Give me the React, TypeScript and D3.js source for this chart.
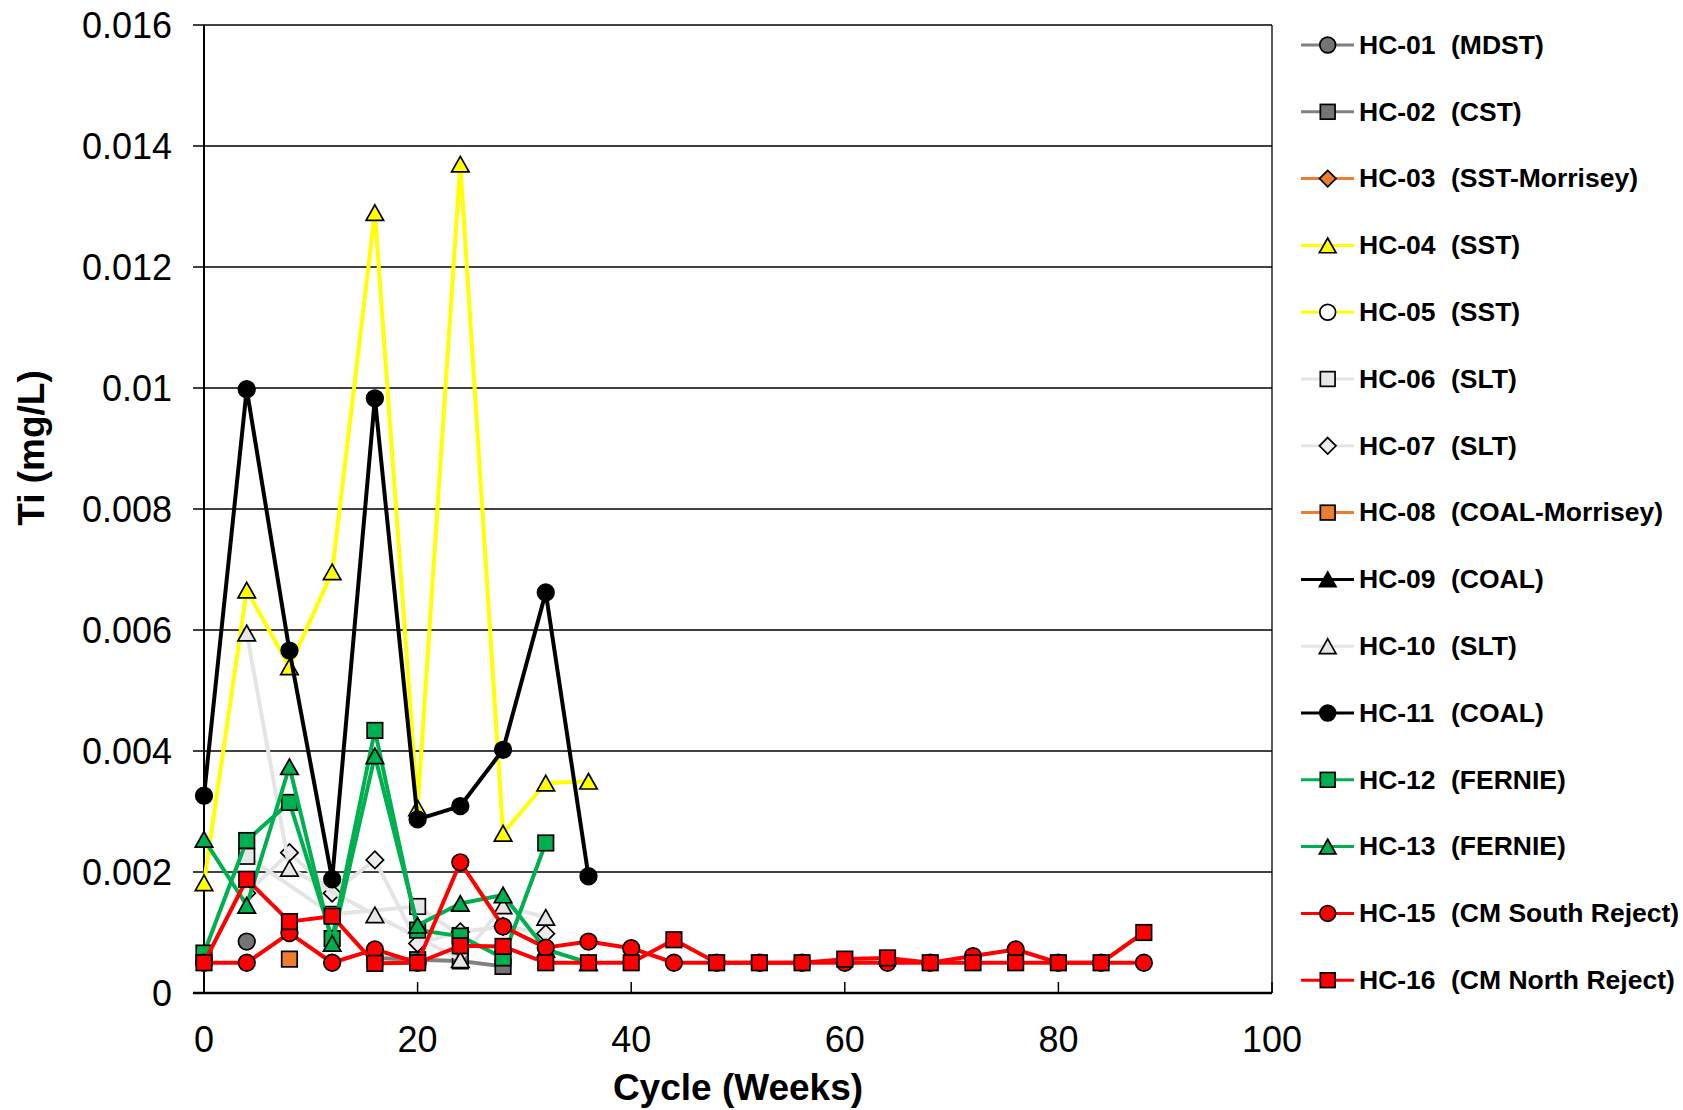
import React from "react";
import * as d3 from "d3";

// ---------- data ----------
const weeks = [0, 4, 8, 12, 16, 20, 24, 28, 32, 36, 40, 44, 48, 52, 56, 60, 64, 68, 72, 76, 80, 84, 88];

const hc01 = [null, 0.00085];
const hc02 = [null, null, null, null, 0.00058, 0.00055, 0.00053, 0.00044];
const hc03: (number | null)[] = [];
const hc04 = [0.00182, 0.00666, 0.00539, 0.00696, 0.0129, 0.00306, 0.0137, 0.00264, 0.00347, 0.0035];
const hc05: (number | null)[] = [];
const hc06 = [null, 0.00226, null, 0.0013, null, 0.00143, 0.00095];
const hc07 = [null, 0.00165, 0.00232, 0.00165, 0.0022, 0.00082, 0.00101, 0.0011, 0.00098];
const hc08 = [null, null, 0.00056];
const hc09: (number | null)[] = [];
const hc10 = [null, 0.00595, 0.00206, null, 0.00129, null, 0.00055, 0.00144, 0.00125];
const hc11 = [0.00326, 0.00998, 0.00566, 0.00188, 0.00983, 0.00287, 0.00309, 0.00402, 0.00662, 0.00193];
const hc12 = [0.00066, 0.00252, 0.00315, 0.0009, 0.00434, 0.00104, 0.00094, 0.00058, 0.00248];
const hc13 = [0.00254, 0.00145, 0.00374, 0.00082, 0.00392, 0.00112, 0.00148, 0.00162, 0.00072, 0.0005];
const hc15 = [0.0005, 0.0005, 0.00099, 0.0005, 0.00072, 0.0005, 0.00216, 0.0011, 0.00075, 0.00085, 0.00074, 0.0005,
  0.0005, 0.0005, 0.0005, 0.0005, 0.0005, 0.0005, 0.00061, 0.00072, 0.0005, 0.0005, 0.0005];
const hc16 = [0.0005, 0.00188, 0.00118, 0.00127, 0.00049, 0.0005, 0.00078, 0.00077, 0.0005, 0.0005, 0.0005, 0.00088,
  0.0005, 0.0005, 0.0005, 0.00056, 0.00058, 0.0005, 0.0005, 0.0005, 0.0005, 0.0005, 0.001];

const seriesIds = ["HC-01", "HC-02", "HC-03", "HC-04", "HC-05", "HC-06", "HC-07", "HC-08", "HC-09", "HC-10", "HC-11", "HC-12", "HC-13", "HC-15", "HC-16"];
const seriesRocks = ["(MDST)", "(CST)", "(SST-Morrisey)", "(SST)", "(SST)", "(SLT)", "(SLT)", "(COAL-Morrisey)", "(COAL)", "(SLT)", "(COAL)", "(FERNIE)", "(FERNIE)", "(CM South Reject)", "(CM North Reject)"];
const seriesValues = [hc01, hc02, hc03, hc04, hc05, hc06, hc07, hc08, hc09, hc10, hc11, hc12, hc13, hc15, hc16];

const xTicks = [0, 20, 40, 60, 80, 100];
const yTicks = [0, 0.002, 0.004, 0.006, 0.008, 0.01, 0.012, 0.014, 0.016];
const yTickLabels = ["0", "0.002", "0.004", "0.006", "0.008", "0.01", "0.012", "0.014", "0.016"];

// ---------- styles ----------
const GRAY = "#808080";
const ORANGE = "#ED7D31";
const YELLOW = "#FFFF00";
const LIGHT = "#E4E4E4";
const GREEN = "#00B050";
const RED = "#FF0000";
const styles = [
  { line: GRAY, fill: "#757575", shape: "circle" },
  { line: GRAY, fill: "#757575", shape: "square" },
  { line: ORANGE, fill: ORANGE, shape: "diamond" },
  { line: YELLOW, fill: YELLOW, shape: "triangle" },
  { line: YELLOW, fill: "#FFFFFF", shape: "circle" },
  { line: LIGHT, fill: "#E6E6E6", shape: "square" },
  { line: LIGHT, fill: "#EBEBEB", shape: "diamond" },
  { line: ORANGE, fill: ORANGE, shape: "square" },
  { line: "#000000", fill: "#000000", shape: "triangle" },
  { line: LIGHT, fill: "#E6E6E6", shape: "triangle" },
  { line: "#000000", fill: "#000000", shape: "circle" },
  { line: GREEN, fill: GREEN, shape: "square" },
  { line: GREEN, fill: GREEN, shape: "triangle" },
  { line: RED, fill: RED, shape: "circle" },
  { line: RED, fill: RED, shape: "square" },
];

const W = 1683;
const H = 1110;
const x = d3.scaleLinear().domain([0, 100]).range([204, 1272]);
const y = d3.scaleLinear().domain([0, 0.016]).range([993, 25]);

function Marker({ shape, cx, cy, fill, s = 1 }: any) {
  const common = { fill, stroke: "#000", strokeWidth: 1.7 };
  if (shape === "circle") return <circle cx={cx} cy={cy} r={8.3 * s} {...common} />;
  if (shape === "square") {
    const a = 15.5 * s;
    return <rect x={cx - a / 2} y={cy - a / 2} width={a} height={a} {...common} />;
  }
  if (shape === "triangle") {
    const w = 17.5 * s, h = 15.5 * s;
    return <path d={`M${cx},${cy - h / 2}L${cx + w / 2},${cy + h / 2}L${cx - w / 2},${cy + h / 2}Z`} {...common} />;
  }
  const r = 8.7 * s;
  return <path d={`M${cx},${cy - r}L${cx + r},${cy}L${cx},${cy + r}L${cx - r},${cy}Z`} {...common} />;
}

export default function App() {
  const line = d3.line<[number, number]>().x((d) => x(d[0])).y((d) => y(d[1]));
  const font = "Liberation Sans, Arial, Helvetica, sans-serif";
  const legendY = (i: number) => 45 + i * 66.8;

  return (
    <svg width={W} height={H} style={{ position: "absolute", left: 0, top: 0, background: "#fff" }} fontFamily={font}>
      <rect x={0} y={0} width={W} height={H} fill="#fff" />
      {/* gridlines */}
      {yTicks.map((t) => (
        <line key={"g" + t} x1={193} x2={x(100)} y1={y(t)} y2={y(t)} stroke="#000" strokeWidth={t === 0 ? 0 : 1.3} />
      ))}
      {/* right border */}
      <line x1={x(100)} x2={x(100)} y1={y(0.016)} y2={y(0)} stroke="#000" strokeWidth={1.3} />
      {/* y axis */}
      <line x1={x(0)} x2={x(0)} y1={y(0.016)} y2={y(0)} stroke="#000" strokeWidth={2} />
      {/* x ticks */}
      {xTicks.map((t) => (
        <line key={"xt" + t} x1={x(t)} x2={x(t)} y1={y(0)} y2={y(0) - 11} stroke="#000" strokeWidth={1.5} />
      ))}
      {/* x axis */}
      <line x1={193} x2={x(100)} y1={y(0)} y2={y(0)} stroke="#000" strokeWidth={2.7} />

      {/* y tick labels */}
      {yTicks.map((t, i) => (
        <text key={"yl" + t} x={172} y={y(t) + 12.5} textAnchor="end" fontSize={36} fill="#000">
          {yTickLabels[i]}
        </text>
      ))}
      {/* x tick labels */}
      {xTicks.map((t) => (
        <text key={"xl" + t} x={x(t)} y={1052} textAnchor="middle" fontSize={36} fill="#000">
          {t}
        </text>
      ))}
      <text x={(x(0) + x(100)) / 2} y={1100} textAnchor="middle" fontSize={37} fontWeight="bold">
        Cycle (Weeks)
      </text>
      <text transform={`translate(44, 448) rotate(-90)`} textAnchor="middle" fontSize={37} fontWeight="bold">
        Ti (mg/L)
      </text>

      {/* series */}
      {seriesValues.map((vals, si) => {
        const pts = vals
          .map((v, i) => [weeks[i], v] as [number, number | null])
          .filter((p) => p[1] !== null) as [number, number][];
        const st = styles[si];
        return (
          <g key={"s" + si}>
            {pts.length > 1 && (
              <path d={line(pts) || ""} fill="none" stroke={st.line} strokeWidth={4} strokeLinejoin="round" />
            )}
            {pts.map((p, k) => (
              <Marker key={k} shape={st.shape} cx={x(p[0])} cy={y(p[1])} fill={st.fill} />
            ))}
          </g>
        );
      })}

      {/* legend */}
      {seriesIds.map((id, i) => {
        const st = styles[i];
        const ly = legendY(i);
        return (
          <g key={"lg" + id}>
            <line x1={1301} x2={1354} y1={ly} y2={ly} stroke={st.line} strokeWidth={3} />
            <Marker shape={st.shape} cx={1327.7} cy={ly} fill={st.fill} s={0.95} />
            <text x={1359} y={ly + 8.7} fontSize={26.5} fontWeight="bold">{id}</text>
            <text x={1451} y={ly + 8.7} fontSize={26.5} fontWeight="bold">{seriesRocks[i]}</text>
          </g>
        );
      })}
    </svg>
  );
}
